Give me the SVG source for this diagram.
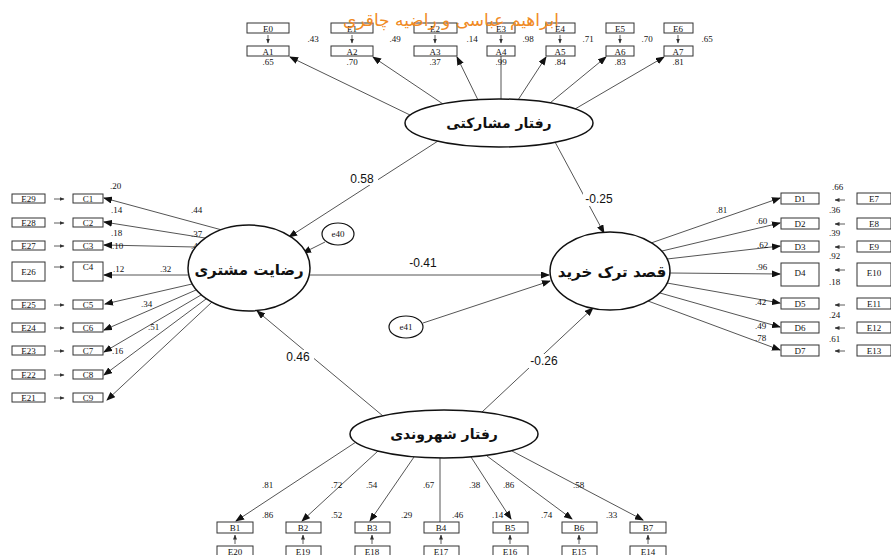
<svg xmlns="http://www.w3.org/2000/svg" width="891" height="555" viewBox="0 0 891 555">
<style>
.bx{fill:#fff;stroke:#333;stroke-width:1}
.lt{font-family:"Liberation Serif",serif;font-size:9px;fill:#111;text-anchor:middle}
.nm{font-family:"Liberation Serif",serif;font-size:9px;fill:#111}
.ln{stroke:#555;stroke-width:1;fill:none}
.sm{stroke:#333;stroke-width:0.8;fill:none}
.el{fill:#fff;stroke:#111;stroke-width:1.5}
.fa{font-family:"DejaVu Sans","Noto Sans",sans-serif;font-weight:bold;fill:#111;text-anchor:middle}
.pl{font-family:"Liberation Sans",sans-serif;font-size:12px;fill:#111;text-anchor:middle}
.bg{fill:#fff}
</style>
<defs>
<marker id="ah" markerUnits="userSpaceOnUse" markerWidth="9" markerHeight="7" refX="8" refY="3.5" orient="auto"><path d="M0,0 L9,3.5 L0,7 z" fill="#111"/></marker>
<marker id="as" markerUnits="userSpaceOnUse" markerWidth="5" markerHeight="4" refX="4.5" refY="2" orient="auto"><path d="M0,0 L5,2 L0,4 z" fill="#333"/></marker>
</defs>
<rect width="891" height="555" fill="#fff"/>

<g id="connectors">
<line class="ln" x1="410" y1="115" x2="290" y2="57" marker-end="url(#ah)"/>
<line class="ln" x1="443" y1="104" x2="373" y2="57" marker-end="url(#ah)"/>
<line class="ln" x1="478" y1="100" x2="457" y2="57" marker-end="url(#ah)"/>
<line class="ln" x1="501" y1="99" x2="501" y2="56"/>
<line class="ln" x1="518" y1="100" x2="546" y2="57" marker-end="url(#ah)"/>
<line class="ln" x1="550" y1="103" x2="606" y2="57" marker-end="url(#ah)"/>
<line class="ln" x1="575" y1="109" x2="664" y2="57" marker-end="url(#ah)"/>
<g class="sm" marker-end="url(#as)">
<line x1="268" y1="35" x2="268" y2="43"/>
<line x1="352" y1="35" x2="352" y2="43"/>
<line x1="435" y1="35" x2="435" y2="43"/>
<line x1="501" y1="35" x2="501" y2="43"/>
<line x1="560" y1="35" x2="560" y2="43"/>
<line x1="620" y1="35" x2="620" y2="43"/>
<line x1="678" y1="35" x2="678" y2="43"/>
</g>
<line class="ln" x1="222" y1="230" x2="104" y2="198" marker-end="url(#ah)"/>
<line class="ln" x1="205" y1="238" x2="104" y2="222" marker-end="url(#ah)"/>
<line class="ln" x1="195" y1="247" x2="104" y2="245" marker-end="url(#ah)"/>
<line class="ln" x1="188" y1="275" x2="104" y2="275" marker-end="url(#ah)"/>
<line class="ln" x1="192" y1="284" x2="105" y2="304" marker-end="url(#ah)"/>
<line class="ln" x1="196" y1="290" x2="104" y2="330" marker-end="url(#ah)"/>
<line class="ln" x1="201" y1="295" x2="104" y2="352" marker-end="url(#ah)"/>
<line class="ln" x1="206" y1="299" x2="104" y2="375" marker-end="url(#ah)"/>
<line class="ln" x1="212" y1="302" x2="107" y2="400" marker-end="url(#ah)"/>
<g class="sm" marker-end="url(#as)">
<line x1="54" y1="199" x2="64" y2="199"/>
<line x1="54" y1="223" x2="64" y2="223"/>
<line x1="54" y1="246" x2="64" y2="246"/>
<line x1="54" y1="267" x2="64" y2="267"/>
<line x1="54" y1="305" x2="64" y2="305"/>
<line x1="54" y1="328" x2="64" y2="328"/>
<line x1="54" y1="351" x2="64" y2="351"/>
<line x1="54" y1="375" x2="64" y2="375"/>
<line x1="54" y1="398" x2="64" y2="398"/>
</g>
<line class="ln" x1="651" y1="243" x2="780" y2="198" marker-end="url(#ah)"/>
<line class="ln" x1="662" y1="251" x2="780" y2="223" marker-end="url(#ah)"/>
<line class="ln" x1="667" y1="259" x2="780" y2="246" marker-end="url(#ah)"/>
<line class="ln" x1="670" y1="273" x2="780" y2="274" marker-end="url(#ah)"/>
<line class="ln" x1="667" y1="283" x2="780" y2="303" marker-end="url(#ah)"/>
<line class="ln" x1="660" y1="293" x2="780" y2="327" marker-end="url(#ah)"/>
<line class="ln" x1="648" y1="301" x2="780" y2="350" marker-end="url(#ah)"/>
<g class="sm" marker-end="url(#as)">
<line x1="845" y1="200" x2="835" y2="200"/>
<line x1="845" y1="224" x2="835" y2="224"/>
<line x1="845" y1="247" x2="835" y2="247"/>
<line x1="845" y1="270" x2="835" y2="270"/>
<line x1="845" y1="305" x2="835" y2="305"/>
<line x1="845" y1="328" x2="835" y2="328"/>
<line x1="845" y1="351" x2="835" y2="351"/>
</g>
<line class="ln" x1="356" y1="442" x2="236" y2="521" marker-end="url(#ah)"/>
<line class="ln" x1="378" y1="451" x2="302" y2="521" marker-end="url(#ah)"/>
<line class="ln" x1="414" y1="457" x2="370" y2="521" marker-end="url(#ah)"/>
<line class="ln" x1="440" y1="458" x2="440" y2="522"/>
<line class="ln" x1="471" y1="457" x2="511" y2="519" marker-end="url(#ah)"/>
<line class="ln" x1="487" y1="456" x2="572" y2="519" marker-end="url(#ah)"/>
<line class="ln" x1="512" y1="451" x2="643" y2="520" marker-end="url(#ah)"/>
<g class="sm" marker-end="url(#as)">
<line x1="235" y1="544" x2="235" y2="535"/>
<line x1="303" y1="544" x2="303" y2="535"/>
<line x1="372" y1="544" x2="372" y2="535"/>
<line x1="441" y1="544" x2="441" y2="535"/>
<line x1="510" y1="544" x2="510" y2="535"/>
<line x1="579" y1="544" x2="579" y2="535"/>
<line x1="648" y1="544" x2="648" y2="535"/>
</g>
<line class="ln" x1="438" y1="141" x2="289" y2="237" marker-end="url(#ah)"/>
<line class="ln" x1="555" y1="142" x2="604" y2="233" marker-end="url(#ah)"/>
<line class="ln" x1="325" y1="242" x2="303" y2="253" marker-end="url(#ah)"/>
<line class="ln" x1="309" y1="275" x2="549" y2="275" marker-end="url(#ah)"/>
<line class="ln" x1="423" y1="323" x2="550" y2="281" marker-end="url(#ah)"/>
<line class="ln" x1="383" y1="416" x2="257" y2="311" marker-end="url(#ah)"/>
<line class="ln" x1="482" y1="412" x2="593" y2="308" marker-end="url(#ah)"/>
<rect class="bg" x="346" y="171" width="32" height="14"/>
<rect class="bg" x="583" y="192" width="32" height="14"/>
<rect class="bg" x="282" y="350" width="32" height="14"/>
<rect class="bg" x="527" y="354" width="34" height="14"/>
</g>

<g id="top-indicators">
<rect class="bx" x="247" y="23" width="42" height="10"/><text class="lt" x="268" y="31.5">E0</text>
<rect class="bx" x="247" y="46" width="42" height="10"/><text class="lt" x="268" y="54.5">A1</text>
<rect class="bx" x="331" y="23" width="42" height="10"/><text class="lt" x="352" y="31.5">E1</text>
<rect class="bx" x="331" y="46" width="42" height="10"/><text class="lt" x="352" y="54.5">A2</text>
<rect class="bx" x="414" y="23" width="43" height="10"/><text class="lt" x="435" y="31.5">E2</text>
<rect class="bx" x="414" y="46" width="43" height="10"/><text class="lt" x="435" y="54.5">A3</text>
<rect class="bx" x="487" y="23" width="28" height="10"/><text class="lt" x="501" y="31.5">E3</text>
<rect class="bx" x="487" y="46" width="28" height="10"/><text class="lt" x="501" y="54.5">A4</text>
<rect class="bx" x="546" y="23" width="29" height="10"/><text class="lt" x="560" y="31.5">E4</text>
<rect class="bx" x="546" y="46" width="29" height="10"/><text class="lt" x="560" y="54.5">A5</text>
<rect class="bx" x="606" y="23" width="28" height="10"/><text class="lt" x="620" y="31.5">E5</text>
<rect class="bx" x="606" y="46" width="28" height="10"/><text class="lt" x="620" y="54.5">A6</text>
<rect class="bx" x="664" y="23" width="29" height="10"/><text class="lt" x="678" y="31.5">E6</text>
<rect class="bx" x="664" y="46" width="29" height="10"/><text class="lt" x="678" y="54.5">A7</text>
<text class="lt" x="313" y="42">.43</text><text class="lt" x="395" y="42">.49</text><text class="lt" x="472" y="42">.14</text>
<text class="lt" x="528" y="42">.98</text><text class="lt" x="588" y="42">.71</text><text class="lt" x="647" y="42">.70</text><text class="lt" x="707" y="42">.65</text>
<text class="lt" x="268" y="65">.65</text><text class="lt" x="352" y="65">.70</text><text class="lt" x="435" y="65">.37</text>
<text class="lt" x="501" y="65">.99</text><text class="lt" x="560" y="65">.84</text><text class="lt" x="620" y="65">.83</text><text class="lt" x="678" y="65">.81</text>
</g>

<g id="left-indicators">
<rect class="bx" x="12" y="194" width="33" height="9"/><text class="lt" x="28.5" y="201.5">E29</text>
<rect class="bx" x="73" y="194" width="30" height="9"/><text class="lt" x="88" y="201.5">C1</text>
<rect class="bx" x="12" y="218" width="33" height="9"/><text class="lt" x="28.5" y="225.5">E28</text>
<rect class="bx" x="73" y="218" width="30" height="9"/><text class="lt" x="88" y="225.5">C2</text>
<rect class="bx" x="12" y="241" width="33" height="9"/><text class="lt" x="28.5" y="248.5">E27</text>
<rect class="bx" x="73" y="241" width="30" height="9"/><text class="lt" x="88" y="248.5">C3</text>
<rect class="bx" x="12" y="262" width="33" height="19"/><text class="lt" x="28.5" y="274.5">E26</text>
<rect class="bx" x="73" y="262" width="30" height="19"/><text class="lt" x="88" y="269.5">C4</text>
<rect class="bx" x="12" y="300" width="33" height="9"/><text class="lt" x="28.5" y="307.5">E25</text>
<rect class="bx" x="73" y="300" width="30" height="9"/><text class="lt" x="88" y="307.5">C5</text>
<rect class="bx" x="12" y="323" width="33" height="9"/><text class="lt" x="28.5" y="330.5">E24</text>
<rect class="bx" x="73" y="323" width="30" height="9"/><text class="lt" x="88" y="330.5">C6</text>
<rect class="bx" x="12" y="346" width="33" height="9"/><text class="lt" x="28.5" y="353.5">E23</text>
<rect class="bx" x="73" y="346" width="30" height="9"/><text class="lt" x="88" y="353.5">C7</text>
<rect class="bx" x="12" y="370" width="33" height="9"/><text class="lt" x="28.5" y="377.5">E22</text>
<rect class="bx" x="73" y="370" width="30" height="9"/><text class="lt" x="88" y="377.5">C8</text>
<rect class="bx" x="12" y="393" width="33" height="9"/><text class="lt" x="28.5" y="400.5">E21</text>
<rect class="bx" x="73" y="393" width="30" height="9"/><text class="lt" x="88" y="400.5">C9</text>
<text class="nm" x="110" y="189">.20</text><text class="nm" x="111" y="213">.14</text><text class="nm" x="111" y="236">.18</text>
<text class="nm" x="112" y="249">.10</text><text class="nm" x="113" y="272">.12</text><text class="nm" x="160" y="272">.32</text>
<text class="nm" x="191" y="213">.44</text><text class="nm" x="191" y="237">.37</text><text class="nm" x="191" y="249">.44</text>
<text class="nm" x="141" y="307">.34</text><text class="nm" x="148" y="330">.51</text><text class="nm" x="112" y="354">.16</text>
</g>

<g id="right-indicators">
<rect class="bx" x="781" y="193" width="38" height="11"/><text class="lt" x="800" y="201.5">D1</text>
<rect class="bx" x="857" y="193" width="34" height="11"/><text class="lt" x="874" y="201.5">E7</text>
<rect class="bx" x="781" y="218" width="38" height="11"/><text class="lt" x="800" y="226.5">D2</text>
<rect class="bx" x="857" y="218" width="34" height="11"/><text class="lt" x="874" y="226.5">E8</text>
<rect class="bx" x="781" y="241" width="38" height="11"/><text class="lt" x="800" y="249.5">D3</text>
<rect class="bx" x="857" y="241" width="34" height="11"/><text class="lt" x="874" y="249.5">E9</text>
<rect class="bx" x="781" y="263" width="38" height="23"/><text class="lt" x="800" y="276">D4</text>
<rect class="bx" x="857" y="263" width="34" height="23"/><text class="lt" x="874" y="276">E10</text>
<rect class="bx" x="781" y="298" width="38" height="11"/><text class="lt" x="800" y="306.5">D5</text>
<rect class="bx" x="857" y="298" width="34" height="11"/><text class="lt" x="874" y="306.5">E11</text>
<rect class="bx" x="781" y="322" width="38" height="11"/><text class="lt" x="800" y="330.5">D6</text>
<rect class="bx" x="857" y="322" width="34" height="11"/><text class="lt" x="874" y="330.5">E12</text>
<rect class="bx" x="781" y="345" width="38" height="11"/><text class="lt" x="800" y="353.5">D7</text>
<rect class="bx" x="857" y="345" width="34" height="11"/><text class="lt" x="874" y="353.5">E13</text>
<text class="nm" x="832" y="190">.66</text><text class="nm" x="829" y="213">.36</text><text class="nm" x="829" y="236">.39</text>
<text class="nm" x="829" y="259">.92</text><text class="nm" x="829" y="285">.18</text><text class="nm" x="829" y="318">.24</text><text class="nm" x="829" y="342">.61</text>
<text class="nm" x="716" y="213">.81</text><text class="nm" x="756" y="224">.60</text><text class="nm" x="757" y="248">.62</text>
<text class="nm" x="756" y="270">.96</text><text class="nm" x="755" y="305">.42</text><text class="nm" x="755" y="329">.49</text><text class="nm" x="755" y="341">.78</text>
</g>

<g id="bottom-indicators">
<rect class="bx" x="217" y="522" width="36" height="11"/><text class="lt" x="235" y="530.5">B1</text>
<rect class="bx" x="217" y="546" width="36" height="12"/><text class="lt" x="235" y="554.5">E20</text>
<rect class="bx" x="286" y="522" width="35" height="11"/><text class="lt" x="303" y="530.5">B2</text>
<rect class="bx" x="286" y="546" width="35" height="12"/><text class="lt" x="303" y="554.5">E19</text>
<rect class="bx" x="355" y="522" width="35" height="11"/><text class="lt" x="372" y="530.5">B3</text>
<rect class="bx" x="355" y="546" width="35" height="12"/><text class="lt" x="372" y="554.5">E18</text>
<rect class="bx" x="424" y="522" width="35" height="11"/><text class="lt" x="441" y="530.5">B4</text>
<rect class="bx" x="424" y="546" width="35" height="12"/><text class="lt" x="441" y="554.5">E17</text>
<rect class="bx" x="493" y="522" width="35" height="11"/><text class="lt" x="510" y="530.5">B5</text>
<rect class="bx" x="493" y="546" width="35" height="12"/><text class="lt" x="510" y="554.5">E16</text>
<rect class="bx" x="562" y="522" width="35" height="11"/><text class="lt" x="579" y="530.5">B6</text>
<rect class="bx" x="562" y="546" width="35" height="12"/><text class="lt" x="579" y="554.5">E15</text>
<rect class="bx" x="630" y="522" width="36" height="11"/><text class="lt" x="648" y="530.5">B7</text>
<rect class="bx" x="630" y="546" width="36" height="12"/><text class="lt" x="648" y="554.5">E14</text>
<text class="nm" x="262" y="488">.81</text><text class="nm" x="331" y="488">.72</text><text class="nm" x="366" y="488">.54</text>
<text class="nm" x="423" y="488">.67</text><text class="nm" x="469" y="488">.38</text><text class="nm" x="503" y="488">.86</text><text class="nm" x="573" y="488">.58</text>
<text class="nm" x="262" y="518">.86</text><text class="nm" x="331" y="518">.52</text><text class="nm" x="401" y="518">.29</text>
<text class="nm" x="452" y="518">.46</text><text class="nm" x="492" y="518">.14</text><text class="nm" x="541" y="518">.74</text><text class="nm" x="606" y="518">.33</text>
</g>

<g id="latent-participation">
<ellipse class="el" cx="499" cy="123" rx="94" ry="24"/>
<text class="fa" x="499" y="128" font-size="14">رفتار مشارکتی</text>
</g>
<g id="latent-satisfaction">
<ellipse class="el" cx="249" cy="268" rx="61" ry="43"/>
<text class="fa" x="249" y="275" font-size="15">رضایت مشتری</text>
</g>
<g id="latent-intention">
<ellipse class="el" cx="610" cy="271" rx="60" ry="39"/>
<text class="fa" x="612" y="277" font-size="15">قصد ترک خرید</text>
</g>
<g id="latent-citizenship">
<ellipse class="el" cx="444" cy="434" rx="94" ry="24"/>
<text class="fa" x="444" y="439" font-size="14">رفتار شهروندی</text>
</g>
<g id="e40">
<ellipse class="el" cx="338" cy="234" rx="16" ry="11" style="stroke-width:1.2"/>
<text class="lt" x="338" y="237" font-size="8">e40</text>
</g>
<g id="e41">
<ellipse class="el" cx="406" cy="327" rx="17" ry="11" style="stroke-width:1.2"/>
<text class="lt" x="406" y="330" font-size="8">e41</text>
</g>

<g id="path-labels">
<text class="pl" x="362" y="183">0.58</text>
<text class="pl" x="599" y="203">-0.25</text>
<text class="pl" x="423" y="267">-0.41</text>
<text class="pl" x="298" y="361">0.46</text>
<text class="pl" x="544" y="365">-0.26</text>
</g>

<g id="title">
<text x="451" y="26" font-family="DejaVu Sans,'Noto Sans',sans-serif" font-size="17" fill="#F08A24" text-anchor="middle">ابراهیم عباسی و راضیه چاقری</text>
</g>
</svg>
